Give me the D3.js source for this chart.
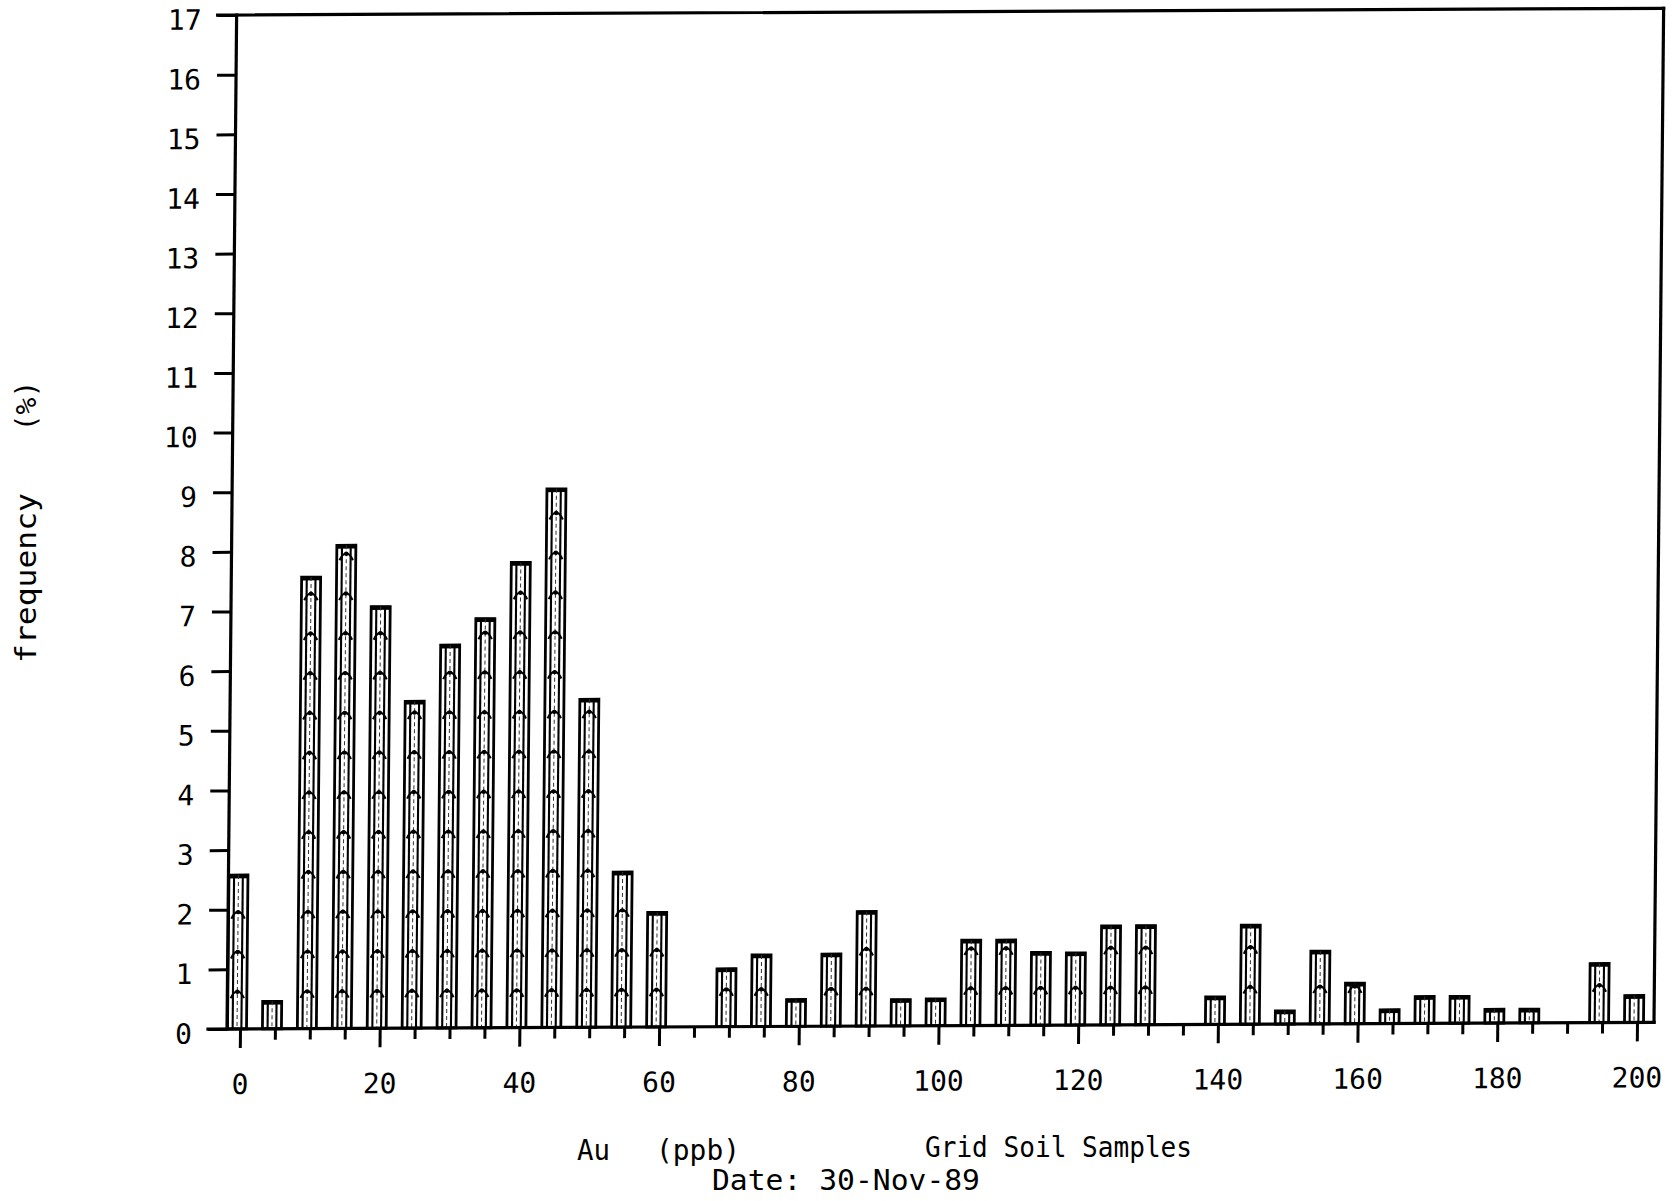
<!DOCTYPE html>
<html>
<head>
<meta charset="utf-8">
<script src="https://cdn.jsdelivr.net/npm/d3@7"></script>
<style>
  html, body { margin: 0; padding: 0; background: #fff; }
  svg { display: block; }
  text { font-family: "DejaVu Sans Mono", "Liberation Mono", monospace; fill: #000; }
</style>
</head>
<body>
<svg id="chart" width="1676" height="1201"></svg>
<script>
// ---- data ----
const bins = [0, 5, 10, 15, 20, 25, 30, 35, 40, 45, 50, 55, 60, 65, 70, 75, 80, 85, 90, 95,
              100, 105, 110, 115, 120, 125, 130, 135, 140, 145, 150, 155, 160, 165, 170, 175,
              180, 185, 190, 195, 200];
const frequency = [2.58, 0.46, 7.57, 8.1, 7.07, 5.48, 6.42, 6.86, 7.8, 9.03, 5.5, 2.6, 1.92, 0,
                   0.97, 1.2, 0.45, 1.21, 1.92, 0.44, 0.45, 1.43, 1.43, 1.22, 1.21, 1.66, 1.66, 0,
                   0.46, 1.66, 0.22, 1.22, 0.68, 0.23, 0.45, 0.45, 0.23, 0.23, 0, 0.99, 0.45];
const yTicks = [0, 1, 2, 3, 4, 5, 6, 7, 8, 9, 10, 11, 12, 13, 14, 15, 16, 17];
const xLabelTicks = [0, 20, 40, 60, 80, 100, 120, 140, 160, 180, 200];
const yTitle = ["frequency", "(%)"];
const xTitle = ["Au", "(ppb)", "Grid Soil Samples", "Date: 30-Nov-89"];

// ---- layout ----
const axisX = 227, rightX = 1654;
const x = d3.scaleLinear().domain([0, 200]).range([240, 1637]);
const y = d3.scaleLinear().domain([0, 17]).range([1029, 15]);
const barW = 19, barShift = -3;

const svg = d3.select("#chart");
svg.append("rect").attr("width", 1676).attr("height", 1201).attr("fill", "#fff");

// slight scan skew of the original plot
const A = 0.0095, B = 0.0047;
const g = svg.append("g")
  .attr("transform", `matrix(1,${-B},${-A},1,${A * y(0)},${B * axisX})`);

// ---- bars ----
const data = bins.map((b, i) => ({ b, v: frequency[i] })).filter(d => d.v > 0);
const bars = g.selectAll("g.bar").data(data).join("g").attr("class", "bar");

bars.each(function (d) {
  const sel = d3.select(this);
  const x0 = x(d.b) + barShift - barW / 2;
  const top = y(d.v), bot = y(0);
  sel.append("rect").attr("x", x0).attr("y", top).attr("width", barW).attr("height", bot - top)
    .attr("fill", "#fff").attr("stroke", "#000").attr("stroke-width", 2.8);
  sel.append("line").attr("x1", x0).attr("x2", x0 + barW).attr("y1", top + 1.2).attr("y2", top + 1.2)
    .attr("stroke", "#000").attr("stroke-width", 4.2);
  [0.27, 0.73].forEach(f => {
    sel.append("line").attr("x1", x0 + f * barW).attr("x2", x0 + f * barW)
      .attr("y1", top).attr("y2", bot).attr("stroke", "#000").attr("stroke-width", 2.1);
  });
  sel.append("line").attr("x1", x0 + barW / 2).attr("x2", x0 + barW / 2)
    .attr("y1", top).attr("y2", bot).attr("stroke", "#333").attr("stroke-width", 1)
    .attr("stroke-dasharray", "4,3");
  // arc hatch every 2/3 of a unit
  const step = 2 / 3;
  for (let k = 1; k * step - 0.045 < d.v; k++) {
    const yk = y(k * step);
    const xc = x0 + barW / 2;
    sel.append("path")
      .attr("d", `M${x0 + 0.15 * barW},${yk + 9} Q${xc},${yk - 5} ${x0 + 0.85 * barW},${yk + 9}`)
      .attr("fill", "none").attr("stroke", "#000").attr("stroke-width", 2.1);
    sel.append("circle").attr("cx", xc).attr("cy", yk + 2.5).attr("r", 2.2).attr("fill", "#000");
  }
});

// ---- y axis ----
const yAxis = g.append("g").attr("transform", `translate(${axisX},0)`)
  .call(d3.axisLeft(y).tickValues(yTicks).tickSize(19).tickPadding(16).tickSizeOuter(0));
yAxis.select(".domain").remove();
yAxis.selectAll(".tick line").attr("stroke", "#000").attr("stroke-width", 3);
yAxis.selectAll(".tick text").attr("font-size", 28).attr("dy", "0.5em")
  .style("font-family", '"DejaVu Sans Mono", monospace');

// ---- x axis ----
const xAxis = g.append("g").attr("transform", `translate(0,${y(0)})`)
  .call(d3.axisBottom(x).tickValues(bins).tickSize(11).tickSizeOuter(0)
    .tickFormat(d => xLabelTicks.includes(d) ? d : ""));
xAxis.select(".domain").remove();
xAxis.selectAll(".tick line").attr("stroke", "#000").attr("stroke-width", 3)
  .attr("y2", d => xLabelTicks.includes(d) ? 19 : 11);
xAxis.selectAll(".tick text").attr("font-size", 28).attr("y", 65).attr("dy", 0)
  .style("font-family", '"DejaVu Sans Mono", monospace');

// ---- frame ----
const frame = [
  [axisX - 19, y(17), rightX, y(17)],
  [axisX, y(17), axisX, y(0)],
  [rightX, y(17), rightX, y(0)],
  [axisX - 19, y(0), rightX, y(0)]
];
g.selectAll("line.frame").data(frame).join("line").attr("class", "frame")
  .attr("x1", d => d[0]).attr("y1", d => d[1]).attr("x2", d => d[2]).attr("y2", d => d[3])
  .attr("stroke", "#000").attr("stroke-width", 3.2).attr("stroke-linecap", "square");

// ---- titles ----
svg.append("text").attr("transform", "translate(36,578) rotate(-90)")
  .attr("text-anchor", "middle").attr("font-size", 28)
  .attr("textLength", 170).attr("lengthAdjust", "spacingAndGlyphs").text(yTitle[0]);
svg.append("text").attr("transform", "translate(36,406) rotate(-90)")
  .attr("text-anchor", "middle").attr("font-size", 28).text(yTitle[1]);

svg.append("text").attr("x", 577).attr("y", 1160).attr("font-size", 28)
  .attr("textLength", 33).attr("lengthAdjust", "spacingAndGlyphs").text(xTitle[0]);
svg.append("text").attr("x", 656).attr("y", 1160).attr("font-size", 28)
  .attr("textLength", 84).attr("lengthAdjust", "spacingAndGlyphs").text(xTitle[1]);
svg.append("text").attr("x", 925).attr("y", 1157).attr("font-size", 28)
  .attr("textLength", 267).attr("lengthAdjust", "spacingAndGlyphs").text(xTitle[2]);
svg.append("text").attr("x", 712).attr("y", 1190).attr("font-size", 28)
  .attr("textLength", 268).attr("lengthAdjust", "spacingAndGlyphs").text(xTitle[3]);
</script>
</body>
</html>
